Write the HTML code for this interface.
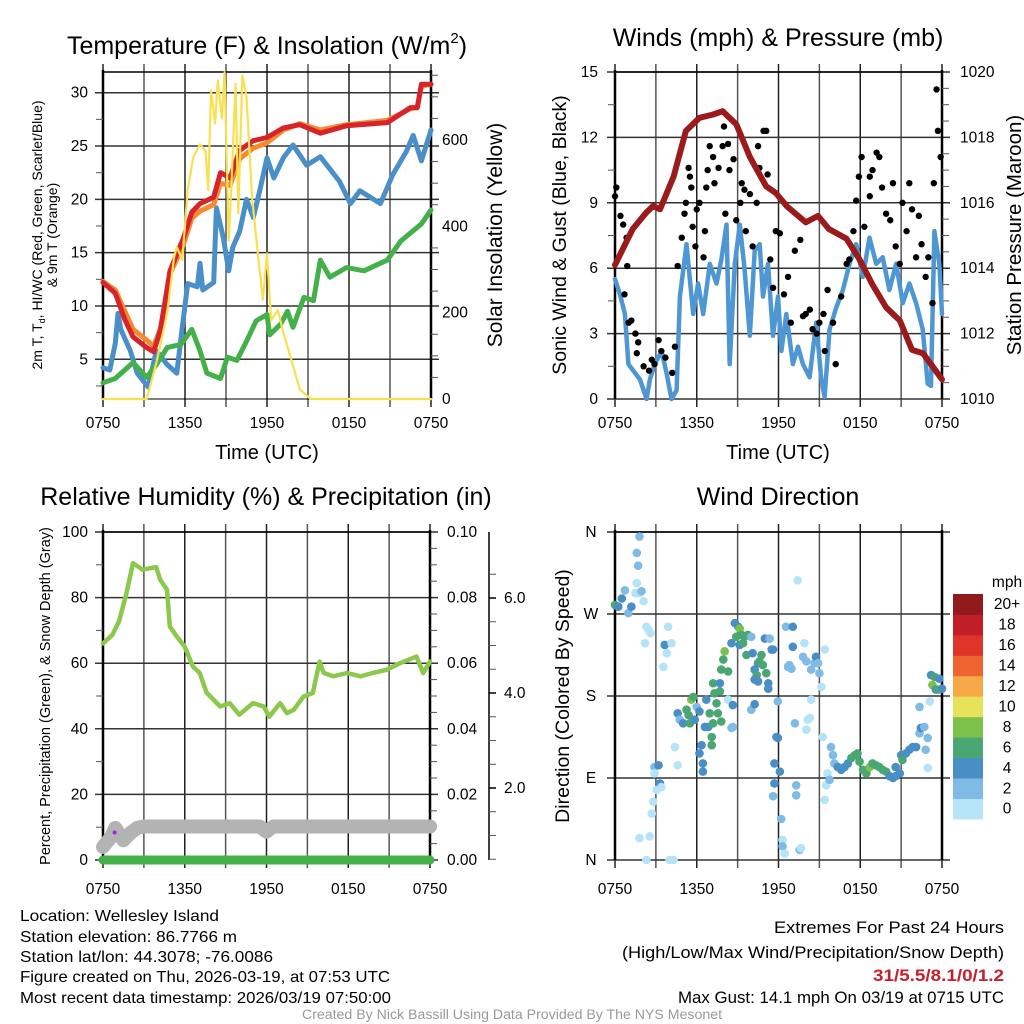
<!DOCTYPE html>
<html><head><meta charset="utf-8">
<style>
html,body{margin:0;padding:0;background:#fff;}
svg{display:block;font-family:"Liberation Sans",sans-serif;}
</style></head>
<body>
<svg id="root" width="1024" height="1024" viewBox="0 0 1024 1024" xmlns="http://www.w3.org/2000/svg">
<g id="p1"></g>
<g id="p2"></g>
<g id="p3"></g>
<g id="p4"></g>

<text x="267" y="54" font-size="25" text-anchor="middle">Temperature (F) &amp; Insolation (W/m<tspan font-size="15" dy="-11">2</tspan><tspan dy="11">)</tspan></text>
<text x="778" y="46" font-size="25" text-anchor="middle">Winds (mph) &amp; Pressure (mb)</text>
<text x="266" y="505" font-size="25" text-anchor="middle">Relative Humidity (%) &amp; Precipitation (in)</text>
<text x="778" y="505" font-size="25" text-anchor="middle">Wind Direction</text>

<text x="267" y="459" font-size="20" text-anchor="middle">Time (UTC)</text>
<text x="778" y="459" font-size="20" text-anchor="middle">Time (UTC)</text>

<text transform="translate(42,235) rotate(-90)" font-size="14" text-anchor="middle">2m T, T<tspan font-size="9" dy="3">d</tspan><tspan dy="-3">, HI/WC (Red, Green, Scarlet/Blue)</tspan></text>
<text transform="translate(57,235) rotate(-90)" font-size="14" text-anchor="middle">&amp; 9m T (Orange)</text>
<text transform="translate(502,235) rotate(-90)" font-size="21" text-anchor="middle">Solar Insolation (Yellow)</text>
<text transform="translate(566,235) rotate(-90)" font-size="19.5" text-anchor="middle">Sonic Wind &amp; Gust (Blue, Black)</text>
<text transform="translate(1021,235) rotate(-90)" font-size="20.5" text-anchor="middle">Station Pressure (Maroon)</text>
<text transform="translate(50,696) rotate(-90)" font-size="14.5" text-anchor="middle">Percent, Precipitation (Green), &amp; Snow Depth (Gray)</text>
<text transform="translate(569,696) rotate(-90)" font-size="19.5" text-anchor="middle">Direction (Colored By Speed)</text>

<g font-size="16">
<text x="20" y="921" textLength="199" lengthAdjust="spacingAndGlyphs">Location: Wellesley Island</text>
<text x="20" y="942" textLength="217" lengthAdjust="spacingAndGlyphs">Station elevation: 86.7766 m</text>
<text x="20" y="962" textLength="253" lengthAdjust="spacingAndGlyphs">Station lat/lon: 44.3078; -76.0086</text>
<text x="20" y="982" textLength="370" lengthAdjust="spacingAndGlyphs">Figure created on Thu, 2026-03-19, at 07:53 UTC</text>
<text x="20" y="1003" textLength="371" lengthAdjust="spacingAndGlyphs">Most recent data timestamp: 2026/03/19 07:50:00</text>
</g>
<g font-size="17" text-anchor="end">
<text x="1004" y="933" textLength="230" lengthAdjust="spacingAndGlyphs">Extremes For Past 24 Hours</text>
<text x="1004" y="958" textLength="382" lengthAdjust="spacingAndGlyphs">(High/Low/Max Wind/Precipitation/Snow Depth)</text>
<text x="1004" y="981" fill="#c8202a" font-weight="bold" textLength="131" lengthAdjust="spacingAndGlyphs">31/5.5/8.1/0/1.2</text>
<text x="1004" y="1003" textLength="326" lengthAdjust="spacingAndGlyphs">Max Gust: 14.1 mph On 03/19 at 0715 UTC</text>
</g>
<text x="512" y="1019" font-size="13.5" fill="#999" text-anchor="middle" textLength="420" lengthAdjust="spacingAndGlyphs">Created By Nick Bassill Using Data Provided By The NYS Mesonet</text>
</svg>

<script>
// ---------- DATA (hours since 0750 UTC) ----------
const timeTickLabels = ["0750","1350","1950","0150","0750"];
const tempTicks = [5,10,15,20,25,30];
const insolTicks = [0,200,400,600];
const windTicks = [0,3,6,9,12,15];
const presTicks = [1010,1012,1014,1016,1018,1020];
const rhTicks = [0,20,40,60,80,100];
const precipTicks = ["0.00","0.02","0.04","0.06","0.08","0.10"];
const snowTicks = ["2.0","4.0","6.0"];
const dirTickLabels = ["N","E","S","W","N"];
const speedBinLabels = ["0","2","4","6","8","10","12","14","16","18","20+"];

const redH = [0,0.9,1.6,2.2,3.2,3.7,4.2,4.9,5.9,6.5,7.1,8.1,8.6,9.3,10,11,12,13.2,14.4,15.9,17.8,20.8,22.5,23,23.3,24];
const redT = [12.2,11.2,8.7,7.1,6.1,5.7,7.7,13.3,16.4,18.8,19.6,20.2,22.5,22,24.6,25.5,25.8,26.7,27,26.2,26.9,27.2,28.6,28.6,30.8,30.8];
const orangeH = [0,0.9,1.6,2.2,3.2,3.7,4.2,4.9,5.9,6.5,7.1,8.1,8.6,9.3,10,11,12,13.2,14.4,15.9,17.8,20.8,22.5,23,23.3,24];
const orangeT = [12.3,11.5,9.5,7.8,6.8,6.2,7.9,13.0,15.8,18.2,18.9,19.5,21.5,21.3,23.8,24.8,25.3,26.5,27.1,26.5,27.0,27.4,28.5,28.6,30.6,30.8];
const blueH = [0,0.5,0.9,1.1,1.3,2,2.5,3.3,3.9,4.7,5.4,5.8,6.2,6.9,7.1,7.3,8.1,8.3,8.8,9.2,9.5,10,10.5,11,11.5,12,12.5,13.2,13.9,14.9,15.9,17.3,18.1,18.8,20.3,21.2,22.2,22.7,23.3,24];
const blueT = [4.2,4.0,6.5,9.3,7.8,5.8,3.7,2.4,5.8,4.5,3.7,8.0,12.1,11.8,14.0,11.5,12.2,19.2,16.4,13.3,15.5,17.0,20.0,18.3,21.0,23.9,22.0,23.9,25.1,23.2,24.0,21.7,19.6,20.8,19.6,22.3,24.5,26.0,23.6,26.5];
const greenH = [0,0.9,2.2,3.2,3.9,4.7,5.7,6.5,7.1,7.6,8.6,9.1,9.8,10.5,11.2,12,12.2,13,13.5,13.9,14.7,15.4,15.9,16.6,17.8,19.1,20.8,21.8,23.3,24];
const greenT = [2.8,3.2,4.7,3.3,4.5,6.1,6.4,7.8,5.8,3.7,3.2,5.2,4.9,6.7,8.6,9.2,7.3,8.3,9.5,8.0,10.8,10.5,14.3,12.7,13.6,13.3,14.3,16.1,17.7,19.0];
const solarH = [0,3.2,3.9,4.7,5.2,5.4,5.8,6.2,6.6,7.1,7.5,7.7,7.9,8.2,8.4,8.7,8.9,9.2,9.4,9.7,9.9,10.2,10.5,10.9,11.4,11.7,12,12.3,12.8,13.2,13.7,14.4,15.2,24];
const solarW = [0,0,83,199,329,352,322,484,560,590,575,484,715,638,738,650,757,367,500,730,430,750,700,468,316,230,337,183,206,153,100,22,0,0];

const presH = [0,1.3,2.3,2.8,3.3,4.3,5.2,6.2,7.2,7.9,8.9,9.9,11.1,11.8,12.6,14,14.9,15.7,17,17.9,18.9,19.9,20.9,21.8,22.6,23.3,24];
const presMb = [1014.1,1015.2,1015.7,1015.9,1015.8,1016.8,1018.2,1018.6,1018.7,1018.8,1018.4,1017.4,1016.5,1016.3,1015.9,1015.4,1015.6,1015.2,1014.9,1014.3,1013.5,1012.8,1012.4,1011.5,1011.4,1011.0,1010.6];
const windH = [0,0.37,0.73,0.98,1.34,1.83,2.32,2.56,2.93,3.42,3.78,4.15,4.52,4.76,5.25,5.74,6.1,6.47,6.96,7.45,7.81,8.18,8.42,8.79,9.16,9.52,9.89,10.25,10.62,10.86,11.23,11.6,11.96,12.21,12.57,13.06,13.43,13.79,14.28,14.77,15.14,15.38,15.75,16.24,16.73,17.21,17.7,18.19,18.68,19.17,19.65,20.14,20.63,21.12,21.61,22.1,22.58,22.95,23.19,23.44,23.8,24];
const windMph = [5.5,4.8,3.9,1.6,1.3,0.9,0,0.9,1.6,2.2,1.2,0,0.4,4.7,7.1,3.9,5.3,3.9,6.2,5.3,6.4,8.0,1.6,6.2,8.0,5.9,2.9,6.8,7.1,4.7,6.2,2.9,4.7,2.2,3.9,1.6,2.4,1.6,1.0,3.5,0.9,0.1,3.2,4.2,5.0,6.2,7.1,5.6,7.4,6.2,6.5,5.0,6.2,4.4,5.3,4.4,3.2,0.7,0.6,7.7,6.2,3.9];
const gustH = [0,0.1,0.4,0.6,0.85,0.7,0.9,1.0,1.2,1.5,1.6,1.7,2.1,2.5,2.7,2.9,3.2,3.4,3.7,4.2,4.4,4.6,4.9,5.1,5.2,5.4,5.5,5.6,5.7,5.9,6.0,6.2,6.5,6.6,6.7,6.8,6.95,7.2,7.3,7.6,7.9,8.0,8.1,8.3,8.4,8.7,8.9,9.2,9.3,9.5,9.6,9.9,10.1,10.4,10.5,10.6,10.9,11.1,11.2,11.4,11.6,11.8,12.1,12.4,12.7,12.9,13.2,13.6,13.8,14.0,14.3,14.5,14.8,15.0,15.3,15.4,15.6,16.0,16.2,16.6,17.0,17.2,17.5,17.7,17.9,18.1,18.3,18.7,18.9,19.2,19.4,19.6,19.9,20.2,20.4,20.6,20.9,21.1,21.4,21.6,21.8,22.1,22.3,22.5,22.8,23.0,23.3,23.4,23.6,23.7,23.9,18.7];
const gustMph = [9.3,9.7,8.4,8.0,7.4,4.8,6.1,3.5,3.6,3.0,2.1,2.6,1.5,1.3,1.8,1.6,2.7,2.2,1.9,1.2,2.4,6.1,7.4,8.5,9.0,10.6,10.2,9.7,7.9,7.0,8.7,9.0,6.5,7.7,9.7,10.5,11.6,11.1,9.9,10.6,11.6,12.5,8.5,11.7,10.5,11.0,8.2,9.0,9.9,9.6,7.7,9.4,7.0,9.0,11.6,10.6,12.3,12.3,10.3,6.4,5.1,7.7,7.6,4.8,5.6,3.5,6.8,7.3,3.8,3.9,4.1,3.2,3.0,3.5,3.9,2.2,5.0,3.5,1.6,4.7,6.2,6.4,7.7,9.1,10.2,11.1,7.9,9.3,10.5,11.3,11.1,9.7,8.5,8.2,9.9,7.0,6.2,9.0,7.7,9.9,8.7,6.5,8.4,7.1,5.6,6.5,4.4,9.9,14.2,12.3,11.1,10.2,7.9,13.5];

const rhH = [0,0.7,1.2,1.7,2.2,2.9,3.9,4.2,4.7,4.9,5.4,6,6.6,7.1,7.6,8.6,9.3,10,11,11.8,12.2,13,13.5,14,14.7,15.4,15.9,16.2,16.9,17.9,18.9,19.8,20.8,21.8,23,23.5,24];
const rhPct = [66,68.7,73,81,90.5,88.5,89.3,85.5,82.4,71.2,68.2,65,59,57,51,46.8,47.8,44.3,47.8,46.8,43.7,47.8,44.8,45.8,49.8,50.9,60.5,57,56,57,56,57,58,60,62,57,60.5];
const snowH = [0,0.6,0.9,1.5,2,2.5,3,11.5,12,12.5,24];
const snowIn = [0.76,0.97,1.16,0.9,1.05,1.16,1.19,1.19,1.08,1.19,1.19];
const precipH = [0,24];
const precipIn = [0,0];

const dirData = [[0,280,6],[0.24,278,4],[0.5,287,4],[0.73,296,2],[0.98,271,2],[1.2,278,4],[1.5,293,0.5],[1.6,304,0.5],[1.8,293,0.5],[1.95,295,2],[2.1,284,0.5],[1.6,337,2],[1.7,323,2],[1.8,355,2],[2.3,256,0.5],[2.45,253,0.5],[2.2,238,0.5],[2.6,249,0.5],
[2.9,102,2],[3.2,104,4],[2.9,95,0.5],[3.05,77,0.5],[3.3,84,4],[3.4,80,0.5],[2.8,64,0.5],[2.7,51,0.5],[2.55,26,0.5],[1.8,24,0.5],[2.3,0,0.5],[4,0,0.5],[4.3,0,0.5],[3.55,212,0.5],[3.65,236,4],[3.8,227,0.5],[3.9,256,0.5],[4.15,238,0.5],[4.4,124,0.5],[4.6,104,0.5],
[4.6,161,4],[4.75,154,2],[5,150,4],[5.25,165,6],[5.4,159,6],[5.5,150,6],[5.6,176,8],[5.75,179,6],[5.85,154,4],[6,168,2],[6.2,163,4],[6.35,126,4],[6.2,117,4],[6.45,106,4],[6.45,97,4],[6.6,146,4],[6.7,176,4],[6.85,146,4],[6.95,161,6],[7.1,135,6],[7.1,126,6],[7.2,150,6],[7.2,194,6],[7.3,183,6],[7.45,172,6],[7.55,161,6],[7.7,194,4],[7.7,185,6],[7.8,152,6],[7.8,209,6],[8.3,207,6],[7.95,220,6],[8.05,229,8],[8.3,176,0.5],[8.55,145,2],[8.65,146,2],[8.65,170,4],[8.55,238,4],[8.8,260,4],[8.9,245,6],[9.05,256,4],[9.15,254,8],[9.15,236,4],[9.3,247,6],[9.5,245,6],[9.75,247,6],[9.4,238,6],[9.65,225,6],[10,245,2],[10.1,227,4],[10.25,209,4],[10.4,203,6],[10.5,216,4],[10.6,218,6],[10.75,225,6],[10.85,214,6],[11,243,4],[11.1,205,6],[11.25,194,4],[11.35,243,2],[11.5,231,4],[11.6,231,4],[10.25,198,4],[10.5,196,4],[11.25,188,4],[10,165,2],[10.25,171,4],
[11.95,174,2],[11.85,135,4],[11.95,134,4],[11.7,106,4],[12.1,97,4],[11.7,84,4],[11.6,70,2],[12.2,45,2],[12.3,22,0.5],[12.3,15,2],[12.45,7,0.5],[12.55,256,2],[13.05,256,4],[12.7,212,2],[12.8,214,2],[12.95,210,2],[13.05,234,4],[13.2,150,2],[13.3,82,2],[13.3,71,2],[13.4,307,0.5],[13.55,11,2],[13.65,13,0.5],[13.8,223,2],[13.9,238,0.5],[14.05,218,2],[14.15,154,0.5],[14.3,156,0.5],[14.05,143,0.5],[14.4,209,2],[14.4,176,0.5],[14.65,216,2],[14.75,223,4],[14.9,216,2],[15,205,2],[15.15,190,0.5],[15.4,231,0.5],[15.25,135,0.5],[15.5,82,0.5],[15.4,66,0.5],[15.6,95,0.5],[15.75,88,2],[15.85,124,2],[16,115,2],[16.1,106,2],
[16.35,102,4],[16.6,99,4],[16.85,102,4],[17.1,106,4],[17.35,112,6],[17.6,115,6],[17.8,117,6],[17.95,108,6],[18.2,99,6],[18.45,95,6],[18.7,102,8],[18.9,106,6],[19.15,104,6],[19.4,102,6],[19.65,99,6],[19.9,97,6],[20.15,92,4],[20.4,90,4],[20.6,92,4],[20.6,102,4],[20.9,95,4],[21,115,4],[21.1,110,6],[21.35,117,4],[21.6,121,4],[21.85,124,4],[22.1,124,4],[22.35,139,2],[22.45,145,4],[22.7,146,2],[22.95,134,2],[22.8,121,2],[22.95,101,0.5],[22.35,168,2],[23.1,174,0.5],[23.2,203,4],[23.45,201,6],[23.3,192,8],[23.55,187,4],[23.8,199,4],[23.7,187,6],[24,188,4]];

const binColors = ["#b5e3f7","#7fbbe4","#4a8ec6","#4aa673","#7cc14a","#e6e35a","#f5a947","#ee6530","#de3429","#c01f27","#921a1d"];

// ---------- helpers ----------
const NS = "http://www.w3.org/2000/svg";
function mk(tag, attrs, parent){
  const e = document.createElementNS(NS, tag);
  for (const k in attrs) e.setAttribute(k, attrs[k]);
  parent.appendChild(e);
  return e;
}
function linScale(d0,d1,r0,r1){ return v => r0 + (v-d0)*(r1-r0)/(d1-d0); }
function pathFrom(xs, ys, xf, yf){
  let d = "";
  for (let i=0;i<xs.length;i++) d += (i?"L":"M") + xf(xs[i]).toFixed(1) + "," + yf(ys[i]).toFixed(1);
  return d;
}

function frame(g, X0, X1, Yt, Yb, xf, hGrid, bottomLabels, tickLblY){
  for (let h=0; h<=24; h+=3){
    const x = xf(h);
    const ln = mk("line",{x1:x,x2:x,y1:Yt-8,y2:Yb+8,stroke:(h%6===0?"#222":"#555"),"stroke-width":1.5},g);
    
    
  }
  hGrid.forEach(y=>{
    const ln = mk("line",{x1:X0-8,x2:X1+8,y1:y,y2:y,stroke:"#333","stroke-width":1.5},g);
    
    
  });
  const la = mk("line",{x1:X0,x2:X0,y1:Yt-2,y2:Yb,stroke:"#000","stroke-width":2.5},g);
  
  
  const ra = mk("line",{x1:X1,x2:X1,y1:Yt-2,y2:Yb,stroke:"#000","stroke-width":2.5},g);
  
  
  const ta = mk("line",{x1:X0,x2:X1,y1:Yt,y2:Yt,stroke:"#000","stroke-width":1.5},g);
  
  
  if (bottomLabels){
    timeTickLabels.forEach((lb,i)=>{
      const t = mk("text",{x:xf(i*6),y:tickLblY,"font-size":15.5,"text-anchor":"middle"},g);
      t.textContent = lb;
      
      
    });
  }
}
function yLabels(g, vals, yf, x, anchor, fmt){
  vals.forEach(v=>{
    const t = mk("text",{x:x,y:yf(v)+5,"font-size":15.5,"text-anchor":anchor},g);
    t.textContent = fmt? fmt(v) : v;
    
    
  });
}
function minorTicks(g, x, ys, dir){
  ys.forEach(y=>{
    const ln = mk("line",{x1:x,x2:x+dir*7,y1:y,y2:y,stroke:"#555","stroke-width":1},g);
    
    
  });
}
function line(g, xs, ys, xf, yf, color, w, name){
  const p = mk("path",{d:pathFrom(xs,ys,xf,yf),fill:"none",stroke:color,"stroke-width":w,"stroke-linejoin":"round","stroke-linecap":"round"},g);
  
  
  return p;
}

// ---------- Panel 1 ----------
(function(){
  const g = document.getElementById("p1");
  const X0=103,X1=431,Yt=72,Yb=399;
  const xf = linScale(0,24,X0,X1);
  const yT = linScale(5,30,359.3,92.7);
  const yW = linScale(0,600,399,140);
  frame(g,X0,X1,Yt,Yb,xf,tempTicks.map(yT),true,428);
  const bl = mk("line",{x1:X0,x2:X1,y1:Yb,y2:Yb,stroke:"#000","stroke-width":1},g);
  
  
  yLabels(g,tempTicks,yT,88,"end");
  yLabels(g,insolTicks,yW,442,"start");
  const mt=[]; for(let v=2.5; v<=32; v+=5) mt.push(yT(v)); minorTicks(g,X0,mt,-1);
  const mw=[]; for(let v=50; v<=750; v+=50) if(v%200) mw.push(yW(v)); minorTicks(g,X1,mw,1);
  line(g,blueH,blueT,xf,yT,"#4a8fc8",5,"wind-chill-line");
  line(g,greenH,greenT,xf,yT,"#43b04a",5,"dewpoint-line");
  line(g,orangeH,orangeT,xf,yT,"#f58a30",5,"temp-9m-line");
  line(g,redH,redT,xf,yT,"#d7232a",5,"temp-2m-line");
  line(g,solarH,solarW,xf,yW,"#f9e04f",2.2,"solar-insolation-line");
})();

// ---------- Panel 2 ----------
(function(){
  const g = document.getElementById("p2");
  const X0=615,X1=942,Yt=72,Yb=399;
  const xf = linScale(0,24,X0,X1);
  const yw = linScale(0,15,399,72);
  const yp = linScale(1010,1020,399,72);
  frame(g,X0,X1,Yt,Yb,xf,windTicks.map(yw),true,428);
  yLabels(g,windTicks,yw,598,"end");
  yLabels(g,presTicks,yp,960,"start");
  const mt=[]; for(let v=1.5; v<15; v+=3) mt.push(yw(v)); minorTicks(g,X0,mt,-1);
  const mp=[]; for(let v=1010.5; v<1020; v+=0.5) if(Math.round(v*2)%4) mp.push(yp(v)); minorTicks(g,X1,mp,1);
  line(g,windH,windMph,xf,yw,"#4e97d2",4.5,"sonic-wind-line");
  gustH.forEach((h,i)=>{
    const c = mk("circle",{cx:xf(h),cy:yw(gustMph[i]),r:3.2,fill:"#000"},g);
    
    
  });
  line(g,presH,presMb,xf,yp,"#9b1a1c",6,"station-pressure-line");
})();

// ---------- Panel 3 ----------
(function(){
  const g = document.getElementById("p3");
  const X0=103,X1=430,Yt=532,Yb=860;
  const xf = linScale(0,24,X0,X1);
  const yr = linScale(0,100,860,532);
  const ys = linScale(0,2,883,788);
  frame(g,X0,X1,Yt,Yb,xf,rhTicks.map(yr),true,894);
  yLabels(g,rhTicks,yr,88,"end");
  precipTicks.forEach((lb,i)=>{
    const t = mk("text",{x:447,y:yr(i*20)+5,"font-size":15.5},g);
    t.textContent = lb;
    
    
  });
  const mt=[]; for(let v=10; v<100; v+=20) mt.push(yr(v)); minorTicks(g,X0,mt,-1);
  const mp=[]; for(let v=5; v<100; v+=5) if(v%20) mp.push(yr(v)); minorTicks(g,X1,mp,1);
  const sa = mk("line",{x1:489,x2:489,y1:532,y2:860,stroke:"#000","stroke-width":1.5},g);
  
  
  snowTicks.forEach((lb)=>{
    const y = ys(parseFloat(lb));
    const tk = mk("line",{x1:489,x2:496,y1:y,y2:y,stroke:"#000","stroke-width":1.5},g);
    
    
    const t = mk("text",{x:504,y:y+5,"font-size":15.5},g);
    t.textContent = lb;
    
    
  });
  const ms=[]; for(let v=0.5; v<7; v+=0.5) if(v%2 && ys(v)>532) ms.push(ys(v)); minorTicks(g,489,ms,1);
  line(g,snowH,snowIn,xf,ys,"#b3b3b3",14,"snow-depth-line");
  line(g,precipH,precipIn,xf,yr,"#43b04a",9,"precipitation-line");
  line(g,rhH,rhPct,xf,yr,"#8cc84b",4.5,"relative-humidity-line");
  const pd = mk("circle",{cx:xf(0.85),cy:832.5,r:2,fill:"#a020f0"},g);
  
  
})();

// ---------- Panel 4 ----------
(function(){
  const g = document.getElementById("p4");
  const X0=615,X1=942,Yt=532,Yb=860;
  const xf = linScale(0,24,X0,X1);
  const yd = linScale(0,360,860,532);
  frame(g,X0,X1,Yt,Yb,xf,[0,90,180,270,360].map(yd),true,894);
  dirTickLabels.forEach((lb,i)=>{
    const t = mk("text",{x:591,y:yd(i*90)+5,"font-size":15.5,"text-anchor":"middle"},g);
    t.textContent = lb;
    
    
  });
  dirData.forEach(d=>{
    const idx = Math.min(10, Math.round(d[2]/2));
    const c = mk("circle",{cx:xf(d[0]),cy:yd(d[1]),r:4.3,fill:binColors[idx]},g);
    
    
  });
  const cb = mk("g",{},g);
  
  
  const top=594, bh=20.45;
  speedBinLabels.forEach((lb,i)=>{
    const y = top + (10-i)*bh;
    const r = mk("rect",{x:953,y:y,width:30,height:bh+0.5,fill:binColors[i]},cb);
    
    
    const t = mk("text",{x:1007,y:y+bh/2+5,"font-size":15.5,"text-anchor":"middle"},cb);
    t.textContent = lb;
    
    
  });
  const mph = mk("text",{x:1007,y:587,"font-size":15.5,"text-anchor":"middle"},cb);
  mph.textContent = "mph";
  
  
})();
</script>
</body></html>
